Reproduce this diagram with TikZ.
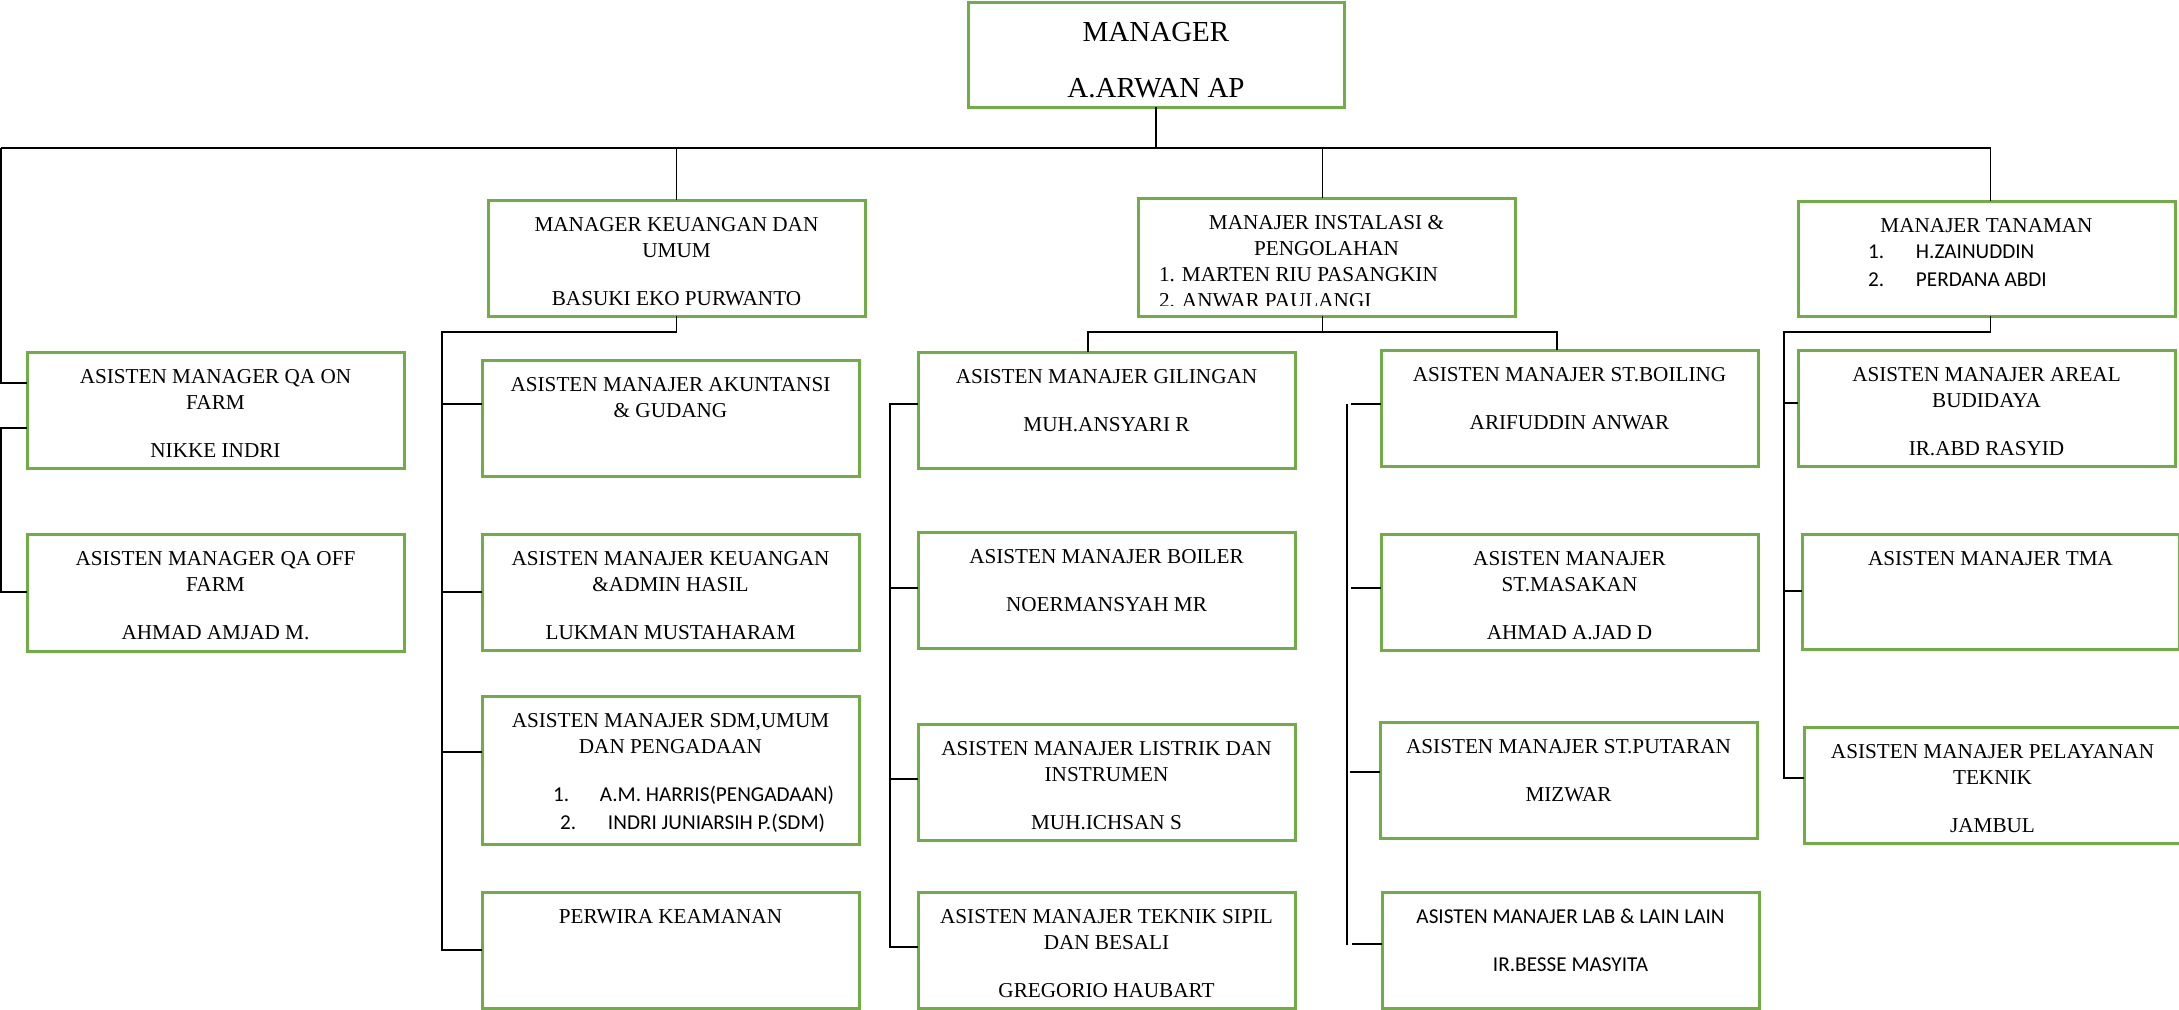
\documentclass[tikz,border=0pt]{standalone}
\usepackage{fontspec}
\setmainfont{Liberation Serif}
\newfontfamily\calibri{Carlito}
\usetikzlibrary{calc}
\definecolor{boxgreen}{HTML}{70AD47}
\newcommand{\boxtext}[2][58pt]{\parbox[c][#1][t]{188.5pt}{\centering\rule{0pt}{15.5pt}#2}}
\newcommand{\listitem}[4]{\makebox[\linewidth][l]{\calibri\hspace*{#1}\makebox[#2][l]{#3}#4}}
\tikzset{
  frame/.style={draw=boxgreen,line width=1.5pt},
  box/.style={frame,inner sep=0pt,outer sep=0pt,anchor=north west,font=\fontsize{10.6}{13}\selectfont}
}
\begin{document}
\begin{tikzpicture}[x=0.5pt,y=-0.5pt,line width=0.65pt]
  \useasboundingbox (0,0) rectangle (2179,1009);
  \node[box,font=\fontsize{14.5}{28}\selectfont] (mgr) at (968,2) {\parbox[c][52.5pt][t]{188pt}{\centering\rule{0pt}{19.5pt}MANAGER\\A.ARWAN AP}};
  \node[box] (qaon) at (27,352) {\boxtext{ASISTEN MANAGER QA ON\\FARM\\[11pt]NIKKE INDRI}};
  \node[box] (qaoff) at (27,534) {\boxtext[58.5pt]{ASISTEN MANAGER QA OFF\\FARM\\[11pt]AHMAD AMJAD M.}};
  \node[box] (keu) at (488,200) {\boxtext{MANAGER KEUANGAN DAN\\UMUM\\[11pt]BASUKI EKO PURWANTO}};
  \node[box] (aku) at (482,360) {\boxtext{ASISTEN MANAJER AKUNTANSI\\\& GUDANG}};
  \node[box] (adm) at (482,534) {\boxtext{ASISTEN MANAJER KEUANGAN\\\&ADMIN HASIL\\[11pt]LUKMAN MUSTAHARAM}};
  \node[box] (sdm) at (482,696) {\boxtext[74pt]{ASISTEN MANAJER SDM,UMUM\\DAN PENGADAAN\\[11pt]\listitem{35.5pt}{23.5pt}{1.}{A.M. HARRIS(PENGADAAN)}\\[1pt]\listitem{39pt}{24pt}{2.}{INDRI JUNIARSIH P.(SDM)}}};
  \node[box] (perw) at (482,892) {\boxtext{PERWIRA KEAMANAN}};
  \begin{scope}
    \clip (1100,180) rectangle (1560,305);
    \node[box,draw=none] (inst) at (1138,198) {\boxtext[59pt]{MANAJER INSTALASI \&\\PENGOLAHAN\\\makebox[\linewidth][l]{\hspace*{10.5pt}1. MARTEN RIU PASANGKIN}\\\makebox[\linewidth][l]{\hspace*{10.5pt}2. ANWAR PAULANGI}}};
  \end{scope}
  \draw[frame] (inst.north west) rectangle (inst.south east);
  \node[box] (tan) at (1798,201) {\boxtext[57.5pt]{MANAJER TANAMAN\\\listitem{35pt}{24pt}{1.}{H.ZAINUDDIN}\\[1pt]\listitem{35pt}{24pt}{2.}{PERDANA ABDI}}};
  \node[box] (gil) at (918,352) {\boxtext{ASISTEN MANAJER GILINGAN\\[11pt]MUH.ANSYARI R}};
  \node[box] (boiler) at (918,532) {\boxtext{ASISTEN MANAJER BOILER\\[11pt]NOERMANSYAH MR}};
  \node[box] (lis) at (918,724) {\boxtext{ASISTEN MANAJER LISTRIK DAN\\INSTRUMEN\\[11pt]MUH.ICHSAN S}};
  \node[box] (sip) at (918,892) {\boxtext{ASISTEN MANAJER TEKNIK SIPIL\\DAN BESALI\\[11pt]GREGORIO HAUBART}};
  \node[box] (boil) at (1381,350) {\boxtext{ASISTEN MANAJER ST.BOILING\\[11pt]ARIFUDDIN ANWAR}};
  \node[box] (mas) at (1381,534) {\boxtext{ASISTEN MANAJER\\ST.MASAKAN\\[11pt]AHMAD A.JAD D}};
  \node[box] (put) at (1380,722) {\boxtext{ASISTEN MANAJER ST.PUTARAN\\[11pt]MIZWAR}};
  \node[box] (lab) at (1382,892) {\boxtext{{\calibri ASISTEN MANAJER LAB \& LAIN LAIN}\\[11pt]{\calibri IR.BESSE MASYITA}}};
  \node[box] (areal) at (1798,350) {\boxtext{ASISTEN MANAJER AREAL\\BUDIDAYA\\[11pt]IR.ABD RASYID}};
  \node[box] (tma) at (1802,534) {\boxtext[57.5pt]{ASISTEN MANAJER TMA}};
  \node[box] (pel) at (1804,727) {\boxtext{ASISTEN MANAJER PELAYANAN\\TEKNIK\\[11pt]JAMBUL}};

  \coordinate (barL) at (1,148);
  \coordinate (keuJ) at (442,332);
  \coordinate (instJ) at ($(inst.south)+(-4,16)$);
  \coordinate (tanJ) at (1784,332);

  \draw ($(tan.north)+(4,0)$) |- (barL);
  \foreach \n in {mgr.south,keu.north} \draw (\n) |- (barL);
  \draw ($(inst.north)+(-4,0)$) |- (barL);
  \draw (barL) |- ($(qaon.north west)+(0,31)$);
  \draw ($(qaon.north west)+(0,76)$) -- ++(-26,0) |- ($(qaoff.north west)+(0,58)$);

  \draw (keu.south) |- (keuJ) |- (perw.west);
  \foreach \n/\d in {aku/44,adm/58,sdm/56} \draw ($(\n.north west)+(0,\d)$) -| (keuJ);

  \draw ($(inst.south)+(-4,0)$) -- (instJ);
  \draw ($(gil.north west)+(170,0)$) |- (instJ) -| ($(boil.north west)+(176,0)$);
  \draw ($(gil.north west)+(0,52)$) -- ++(-28,0) |- ($(sip.north west)+(0,55)$);
  \foreach \n/\d in {boiler/56,lis/55} \draw ($(\n.north west)+(0,\d)$) -- ++(-28,0);
  \draw ($(boil.north west)+(-34,54)$) -- ($(lab.north west)+(-35,53)$);
  \foreach \n/\d in {boil/54,mas/54,put/50,lab/52} \draw ($(\n.north west)+(0,\d)$) -- ++(-30,0);

  \draw ($(tan.south)+(4,0)$) |- (tanJ) |- ($(pel.north west)+(0,51)$);
  \foreach \n/\d in {areal/53,tma/57} \draw ($(\n.north west)+(0,\d)$) -| (tanJ);
\end{tikzpicture}
\end{document}
